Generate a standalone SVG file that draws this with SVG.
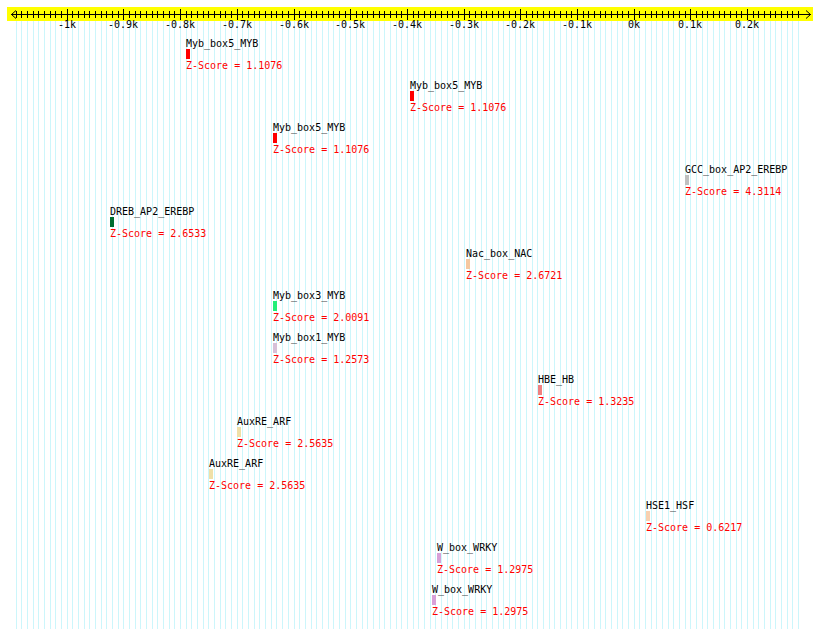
<svg xmlns="http://www.w3.org/2000/svg" width="820" height="629" viewBox="0 0 820 629">
<style>
text{font-family:"DejaVu Sans Mono","Liberation Mono",monospace;font-size:10px}
.nm{fill:#000}
.zs{fill:#ff0000}
.ax{text-anchor:middle;fill:#000}
.grid{stroke:#ccf6fb;stroke-width:1;fill:none}
.tick{stroke:#000;stroke-width:1;fill:none}
</style>
<rect x="0" y="0" width="820" height="629" fill="#ffffff"/>
<g id="grid">
<path class="grid" d="M16.5 21V629M21.5 21V629M27.5 21V629M33.5 21V629M38.5 21V629M44.5 21V629M50.5 21V629M55.5 21V629M61.5 21V629M67.5 21V629M72.5 21V629M78.5 21V629M84.5 21V629M89.5 21V629M95.5 21V629M101.5 21V629M106.5 21V629M112.5 21V629M118.5 21V629M123.5 21V629M129.5 21V629M135.5 21V629M140.5 21V629M146.5 21V629M152.5 21V629M157.5 21V629M163.5 21V629M169.5 21V629M174.5 21V629M180.5 21V629M186.5 21V629M191.5 21V629M197.5 21V629M203.5 21V629M208.5 21V629M214.5 21V629M220.5 21V629M225.5 21V629M231.5 21V629M237.5 21V629M242.5 21V629M248.5 21V629M254.5 21V629M259.5 21V629M265.5 21V629M271.5 21V629M276.5 21V629M282.5 21V629M288.5 21V629M294.5 21V629M299.5 21V629M305.5 21V629M311.5 21V629M316.5 21V629M322.5 21V629M328.5 21V629M333.5 21V629M339.5 21V629M345.5 21V629M350.5 21V629M356.5 21V629M362.5 21V629M367.5 21V629M373.5 21V629M379.5 21V629M384.5 21V629M390.5 21V629M396.5 21V629M401.5 21V629M407.5 21V629M413.5 21V629M418.5 21V629M424.5 21V629M430.5 21V629M435.5 21V629M441.5 21V629M447.5 21V629M452.5 21V629M458.5 21V629M464.5 21V629M469.5 21V629M475.5 21V629M481.5 21V629M486.5 21V629M492.5 21V629M498.5 21V629M503.5 21V629M509.5 21V629M515.5 21V629M520.5 21V629M526.5 21V629M532.5 21V629M537.5 21V629M543.5 21V629M549.5 21V629M554.5 21V629M560.5 21V629M566.5 21V629M571.5 21V629M577.5 21V629M583.5 21V629M588.5 21V629M594.5 21V629M600.5 21V629M605.5 21V629M611.5 21V629M617.5 21V629M622.5 21V629M628.5 21V629M634.5 21V629M639.5 21V629M645.5 21V629M651.5 21V629M656.5 21V629M662.5 21V629M668.5 21V629M673.5 21V629M679.5 21V629M685.5 21V629M690.5 21V629M696.5 21V629M702.5 21V629M707.5 21V629M713.5 21V629M719.5 21V629M724.5 21V629M730.5 21V629M736.5 21V629M741.5 21V629M747.5 21V629M753.5 21V629M758.5 21V629M764.5 21V629M770.5 21V629M775.5 21V629M781.5 21V629M787.5 21V629M792.5 21V629M798.5 21V629"/>
</g>
<g id="axis">
<rect x="7" y="7" width="806" height="14" fill="#ffff00"/>
<path class="tick" d="M11 14.5H811M16 10.5L11.5 14.5L16 18.5M806 10.5L810.5 14.5L806 18.5"/>
<path class="tick" d="M16.5 11V18M21.5 11V18M27.5 11V18M33.5 11V18M38.5 11V18M44.5 11V18M50.5 11V18M55.5 11V18M61.5 11V18M72.5 11V18M78.5 11V18M84.5 11V18M89.5 11V18M95.5 11V18M101.5 11V18M106.5 11V18M112.5 11V18M118.5 11V18M129.5 11V18M135.5 11V18M140.5 11V18M146.5 11V18M152.5 11V18M157.5 11V18M163.5 11V18M169.5 11V18M174.5 11V18M186.5 11V18M191.5 11V18M197.5 11V18M203.5 11V18M208.5 11V18M214.5 11V18M220.5 11V18M225.5 11V18M231.5 11V18M242.5 11V18M248.5 11V18M254.5 11V18M259.5 11V18M265.5 11V18M271.5 11V18M276.5 11V18M282.5 11V18M288.5 11V18M299.5 11V18M305.5 11V18M311.5 11V18M316.5 11V18M322.5 11V18M328.5 11V18M333.5 11V18M339.5 11V18M345.5 11V18M356.5 11V18M362.5 11V18M367.5 11V18M373.5 11V18M379.5 11V18M384.5 11V18M390.5 11V18M396.5 11V18M401.5 11V18M413.5 11V18M418.5 11V18M424.5 11V18M430.5 11V18M435.5 11V18M441.5 11V18M447.5 11V18M452.5 11V18M458.5 11V18M469.5 11V18M475.5 11V18M481.5 11V18M486.5 11V18M492.5 11V18M498.5 11V18M503.5 11V18M509.5 11V18M515.5 11V18M526.5 11V18M532.5 11V18M537.5 11V18M543.5 11V18M549.5 11V18M554.5 11V18M560.5 11V18M566.5 11V18M571.5 11V18M583.5 11V18M588.5 11V18M594.5 11V18M600.5 11V18M605.5 11V18M611.5 11V18M617.5 11V18M622.5 11V18M628.5 11V18M639.5 11V18M645.5 11V18M651.5 11V18M656.5 11V18M662.5 11V18M668.5 11V18M673.5 11V18M679.5 11V18M685.5 11V18M696.5 11V18M702.5 11V18M707.5 11V18M713.5 11V18M719.5 11V18M724.5 11V18M730.5 11V18M736.5 11V18M741.5 11V18M753.5 11V18M758.5 11V18M764.5 11V18M770.5 11V18M775.5 11V18M781.5 11V18M787.5 11V18M792.5 11V18M798.5 11V18"/>
<path class="tick" d="M67.5 9V20M123.5 9V20M180.5 9V20M237.5 9V20M294.5 9V20M350.5 9V20M407.5 9V20M464.5 9V20M520.5 9V20M577.5 9V20M634.5 9V20M690.5 9V20M747.5 9V20"/>
<text class="ax" x="67" y="28">-1k</text>
<text class="ax" x="123" y="28">-0.9k</text>
<text class="ax" x="180" y="28">-0.8k</text>
<text class="ax" x="237" y="28">-0.7k</text>
<text class="ax" x="294" y="28">-0.6k</text>
<text class="ax" x="350" y="28">-0.5k</text>
<text class="ax" x="407" y="28">-0.4k</text>
<text class="ax" x="464" y="28">-0.3k</text>
<text class="ax" x="520" y="28">-0.2k</text>
<text class="ax" x="577" y="28">-0.1k</text>
<text class="ax" x="634" y="28">0k</text>
<text class="ax" x="690" y="28">0.1k</text>
<text class="ax" x="747" y="28">0.2k</text>
</g>
<g id="f1"><text class="nm" x="186" y="47">Myb_box5_MYB</text><rect x="186" y="49" width="4" height="10" fill="#ff0000"/><text class="zs" x="186" y="69">Z-Score = 1.1076</text></g>
<g id="f2"><text class="nm" x="410" y="89">Myb_box5_MYB</text><rect x="410" y="91" width="4" height="10" fill="#ff0000"/><text class="zs" x="410" y="111">Z-Score = 1.1076</text></g>
<g id="f3"><text class="nm" x="273" y="131">Myb_box5_MYB</text><rect x="273" y="133" width="4" height="10" fill="#ff0000"/><text class="zs" x="273" y="153">Z-Score = 1.1076</text></g>
<g id="f4"><text class="nm" x="685" y="173">GCC_box_AP2_EREBP</text><rect x="685" y="175" width="4" height="10" fill="#c0c0c0"/><text class="zs" x="685" y="195">Z-Score = 4.3114</text></g>
<g id="f5"><text class="nm" x="110" y="215">DREB_AP2_EREBP</text><rect x="110" y="217" width="4" height="10" fill="#006e30"/><text class="zs" x="110" y="237">Z-Score = 2.6533</text></g>
<g id="f6"><text class="nm" x="466" y="257">Nac_box_NAC</text><rect x="466" y="259" width="4" height="10" fill="#f5c8a0"/><text class="zs" x="466" y="279">Z-Score = 2.6721</text></g>
<g id="f7"><text class="nm" x="273" y="299">Myb_box3_MYB</text><rect x="273" y="301" width="4" height="10" fill="#22ee77"/><text class="zs" x="273" y="321">Z-Score = 2.0091</text></g>
<g id="f8"><text class="nm" x="273" y="341">Myb_box1_MYB</text><rect x="273" y="343" width="4" height="10" fill="#d8c0d8"/><text class="zs" x="273" y="363">Z-Score = 1.2573</text></g>
<g id="f9"><text class="nm" x="538" y="383">HBE_HB</text><rect x="538" y="385" width="4" height="10" fill="#f08080"/><text class="zs" x="538" y="405">Z-Score = 1.3235</text></g>
<g id="f10"><text class="nm" x="237" y="425">AuxRE_ARF</text><rect x="237" y="427" width="4" height="10" fill="#f0e0a8"/><text class="zs" x="237" y="447">Z-Score = 2.5635</text></g>
<g id="f11"><text class="nm" x="209" y="467">AuxRE_ARF</text><rect x="209" y="469" width="4" height="10" fill="#f0e0a8"/><text class="zs" x="209" y="489">Z-Score = 2.5635</text></g>
<g id="f12"><text class="nm" x="646" y="509">HSE1_HSF</text><rect x="646" y="511" width="4" height="10" fill="#f8d0b0"/><text class="zs" x="646" y="531">Z-Score = 0.6217</text></g>
<g id="f13"><text class="nm" x="437" y="551">W_box_WRKY</text><rect x="437" y="553" width="4" height="10" fill="#d8a0d8"/><text class="zs" x="437" y="573">Z-Score = 1.2975</text></g>
<g id="f14"><text class="nm" x="432" y="593">W_box_WRKY</text><rect x="432" y="595" width="4" height="10" fill="#d8a0d8"/><text class="zs" x="432" y="615">Z-Score = 1.2975</text></g>
</svg>
